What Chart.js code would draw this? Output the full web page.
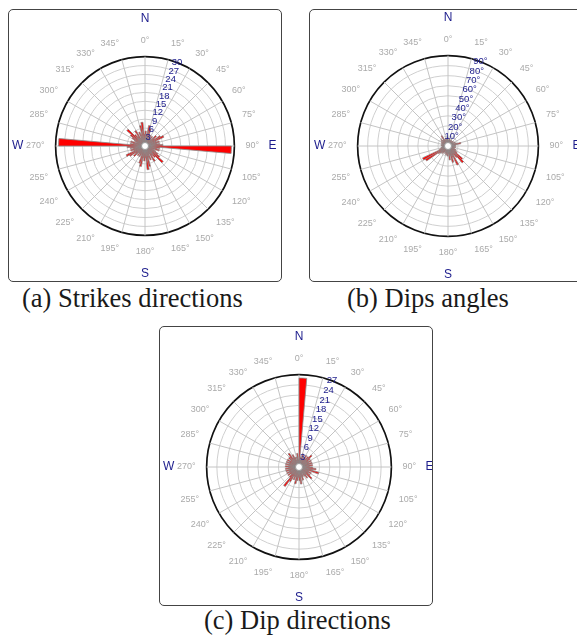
<!DOCTYPE html>
<html>
<head>
<meta charset="utf-8">
<script src="https://cdn.jsdelivr.net/npm/chart.js@4.4.1/dist/chart.umd.min.js"></script>
<style>
html, body { margin:0; padding:0; background:#fff; width:577px; height:635px; overflow:hidden; position:relative; }
.box { position:absolute; border:1px solid #444; border-radius:5px; background:#fff; }
.box canvas { display:block; }
.cap { position:absolute; font-family:"Liberation Serif","Times New Roman",serif; font-size:26.5px; line-height:26px; color:#1a1a1a; white-space:nowrap; }
</style>
</head>
<body>
<div class="box" style="left:8px;top:9px;width:272px;height:271px"><canvas id="strikes" width="272" height="271"></canvas></div>
<div class="box" style="left:309px;top:9px;width:272px;height:271px"><canvas id="dips" width="272" height="271"></canvas></div>
<div class="box" style="left:159px;top:326px;width:272px;height:278px"><canvas id="dipdirs" width="272" height="278"></canvas></div>
<div class="cap" style="left:22px;top:285px">(a) Strikes directions</div>
<div class="cap" style="left:347px;top:285px">(b) Dips angles</div>
<div class="cap" style="left:204px;top:607px">(c) Dip directions</div>
<script>
// bin start angles (5 degree bins, clockwise from north)
const binStarts = [0,5,10,15,20,25,30,35,40,45,50,55,60,65,70,75,80,85,
  90,95,100,105,110,115,120,125,130,135,140,145,150,155,160,165,170,175,
  180,185,190,195,200,205,210,215,220,225,230,235,240,245,250,255,260,265,
  270,275,280,285,290,295,300,305,310,315,320,325,330,335,340,345,350,355];

// (a) strike directions, counts per bin
const strikeCounts = [5,4,7,6,3,4,3,4,3,5,4,6,7,4,5,4,5,6,
  29,5,4,5,3,4,5,6,8,5,4,6,3,5,4,7,8,4,
  5,4,7,6,3,4,3,4,3,5,4,6,7,4,5,4,5,6,
  29,5,4,5,3,4,5,6,8,5,4,6,3,5,4,7,8,4];

// (b) dip angles
const dipAngleCounts = [6,5,8,6,4,7,5,6,4,7,5,6,8,6,9,13,8,7,
  6,8,5,7,6,9,8,11,19,22,14,10,21,12,17,9,14,8,
  10,7,9,6,8,5,7,9,8,10,12,26,28,9,6,7,5,6,
  5,7,6,5,7,6,8,6,9,7,8,12,7,6,8,5,7,9];

// (c) dip directions
const dipDirCounts = [26,3,2,4,3,3,4,3,4,5,4,3,4,3,4,3,4,3,
  4,5,4,6,3,4,3,4,5,3,4,3,2,3,4,3,5,4,
  3,4,5,3,4,3,5,7,4,3,4,3,4,3,4,3,4,3,
  4,3,4,3,4,3,4,3,4,4,5,3,4,3,2,3,4,2];

const compass = ['N', 'E', 'S', 'W'];
const NAVY = '#1c1c8c';
const FONT = '"Liberation Sans", Arial, sans-serif';

Chart.defaults.font.family = FONT;

const roseExtras = {
  id: 'roseExtras',
  afterDatasetsDraw(chart, args, opts) {
    const r = chart.scales.r;
    const ctx = chart.ctx;
    ctx.save();
    // hub
    ctx.beginPath();
    ctx.arc(r.xCenter, r.yCenter, 3.5, 0, Math.PI * 2);
    ctx.fillStyle = '#fff';
    ctx.fill();
    ctx.strokeStyle = '#999';
    ctx.lineWidth = 1;
    ctx.stroke();
    // value labels along a slanted line
    const a = 21 * Math.PI / 180;
    ctx.font = '9.5px ' + FONT;
    ctx.fillStyle = NAVY;
    ctx.textAlign = 'center';
    ctx.textBaseline = 'middle';
    r.ticks.forEach(t => {
      if (t.value === 0) return;
      const d = r.getDistanceFromCenterForValue(t.value);
      ctx.fillText(t.value + opts.suffix, r.xCenter + d * Math.sin(a), r.yCenter - d * Math.cos(a));
    });
    // compass letters
    ctx.font = '12px ' + FONT;
    const d = r.drawingArea + 38;
    compass.forEach((c, i) => {
      const ang = i * Math.PI / 2;
      ctx.fillText(c, r.xCenter + d * Math.sin(ang), r.yCenter - d * Math.cos(ang));
    });
    ctx.restore();
  }
};

function renderRose(id, values, max, step, suffix, pad) {
  return new Chart(document.getElementById(id), {
    type: 'polarArea',
    data: {
      labels: binStarts,
      datasets: [{
        data: values,
        backgroundColor: '#ff0000',
        borderColor: '#8a8a8a',
        borderWidth: 0.8
      }]
    },
    options: {
      responsive: false,
      animation: false,
      layout: { padding: pad },
      plugins: {
        legend: { display: false },
        tooltip: { enabled: false },
        roseExtras: { suffix }
      },
      scales: {
        r: {
          min: 0,
          max,
          ticks: { display: false, stepSize: step },
          grid: {
            circular: true,
            color: c => c.tick && c.tick.value === max ? '#111' : '#cfcfcf',
            lineWidth: c => c.tick && c.tick.value === max ? 1.7 : 1
          },
          angleLines: {
            display: true,
            color: '#c4c4c4',
            lineWidth: c => c.index % 3 === 0 ? 1 : 0
          },
          pointLabels: {
            display: true,
            padding: 11,
            color: '#aaaaaa',
            font: { size: 9 },
            callback: (v) => v % 15 === 0 ? v + '°' : ''
          }
        }
      }
    },
    plugins: [roseExtras]
  });
}

renderRose('strikes', strikeCounts, 30, 3, '', { left: 16, right: 18, top: 10, bottom: 7 });
renderRose('dips', dipAngleCounts, 90, 10, '°', { left: 17, right: 15, top: 10, bottom: 7 });
renderRose('dipdirs', dipDirCounts, 27, 3, '', { left: 16, right: 12, top: 10, bottom: 6 });
</script>
</body>
</html>
